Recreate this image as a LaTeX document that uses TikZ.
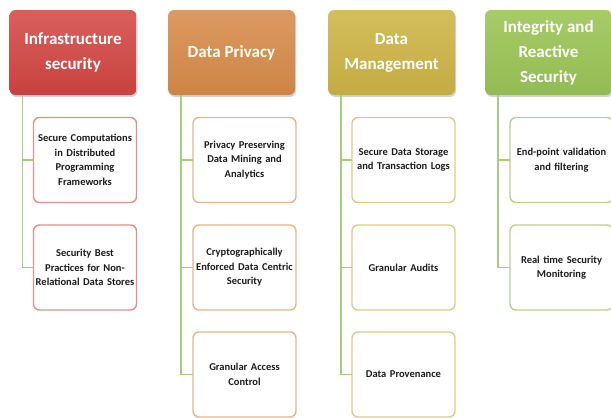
\documentclass[tikz,border=0pt]{standalone}
\usepackage{fontspec}
\setmainfont{Carlito}
\usetikzlibrary{shadows}
\definecolor{hred}{HTML}{C8423F}
\definecolor{hredT}{HTML}{D8605C}
\definecolor{horange}{HTML}{CE8446}
\definecolor{horangeT}{HTML}{DC9A60}
\definecolor{holive}{HTML}{C4AB42}
\definecolor{holiveT}{HTML}{D3BE5C}
\definecolor{hgreen}{HTML}{93BB52}
\definecolor{hgreenT}{HTML}{A6CB68}
\definecolor{bred}{HTML}{E38F8B}
\definecolor{borange}{HTML}{E9B48A}
\definecolor{bolive}{HTML}{DCCB8C}
\definecolor{bgreen}{HTML}{B7D38E}
\definecolor{lgreen}{HTML}{A9CC7A}
\definecolor{txt}{HTML}{1C1C1C}
\tikzset{
  head/.style={rounded corners=6pt, minimum width=127pt, minimum height=85pt,
    inner sep=2pt, outer sep=0pt, align=center, text=white,
    font=\bfseries\fontsize{17}{25}\selectfont, draw=none,
    drop shadow={opacity=0.35, shadow xshift=1pt, shadow yshift=-2pt}},
  child/.style={rounded corners=6pt, minimum width=103pt, minimum height=85pt,
    text width=103pt, inner sep=0pt, outer sep=0pt, align=center, fill=white,
    line width=1.4pt, text=txt, font=\bfseries\fontsize{10.5}{14.5}\selectfont},
  conn/.style={draw=lgreen, line width=1.8pt}
}
\begin{document}
\begin{tikzpicture}[x=1pt,y=-1pt]
\useasboundingbox (0,0) rectangle (611,418);
% headers
\node[head, top color=hredT, bottom color=hred] (h1) at (73,52.5) {Infrastructure\\security};
\node[head, top color=horangeT, bottom color=horange] (h2) at (231.5,52.5) {Data Privacy};
\node[head, top color=holiveT, bottom color=holive] (h3) at (391.5,52.5) {Data\\Management};
\node[head, top color=hgreenT, bottom color=hgreen] (h4) at (548.5,52.5) {Integrity and\\Reactive\\Security};
% column 1
\node[child, draw=bred] (c11) at (85,160) {Secure Computations\\in Distributed\\Programming\\Frameworks};
\node[child, draw=bred] (c12) at (85,267.5) {Security Best\\Practices for Non-\\Relational Data Stores};
% column 2
\node[child, draw=borange] (c21) at (244.5,160) {Privacy Preserving\\Data Mining and\\Analytics};
\node[child, draw=borange] (c22) at (244.5,267.5) {Cryptographically\\Enforced Data Centric\\Security};
\node[child, draw=borange] (c23) at (244.5,374.5) {Granular Access\\Control};
% column 3
\node[child, draw=bolive] (c31) at (403.5,160) {Secure Data Storage\\and Transaction Logs};
\node[child, draw=bolive] (c32) at (403.5,267.5) {Granular Audits};
\node[child, draw=bolive] (c33) at (403.5,374.5) {Data Provenance};
% column 4
\node[child, draw=bgreen] (c41) at (561.5,160) {End-point validation\\and filtering};
\node[child, draw=bgreen] (c42) at (561.5,267.5) {Real time Security\\Monitoring};
% connectors
\draw[conn] ([xshift=13pt]h1.south west) |- (c11.west);
\draw[conn] ([xshift=13pt]h1.south west) |- (c12.west);
\draw[conn] ([xshift=13pt]h2.south west) |- (c21.west);
\draw[conn] ([xshift=13pt]h2.south west) |- (c22.west);
\draw[conn] ([xshift=13pt]h2.south west) |- (c23.west);
\draw[conn] ([xshift=13pt]h3.south west) |- (c31.west);
\draw[conn] ([xshift=13pt]h3.south west) |- (c32.west);
\draw[conn] ([xshift=13pt]h3.south west) |- (c33.west);
\draw[conn] ([xshift=13pt]h4.south west) |- (c41.west);
\draw[conn] ([xshift=13pt]h4.south west) |- (c42.west);
\end{tikzpicture}
\end{document}
